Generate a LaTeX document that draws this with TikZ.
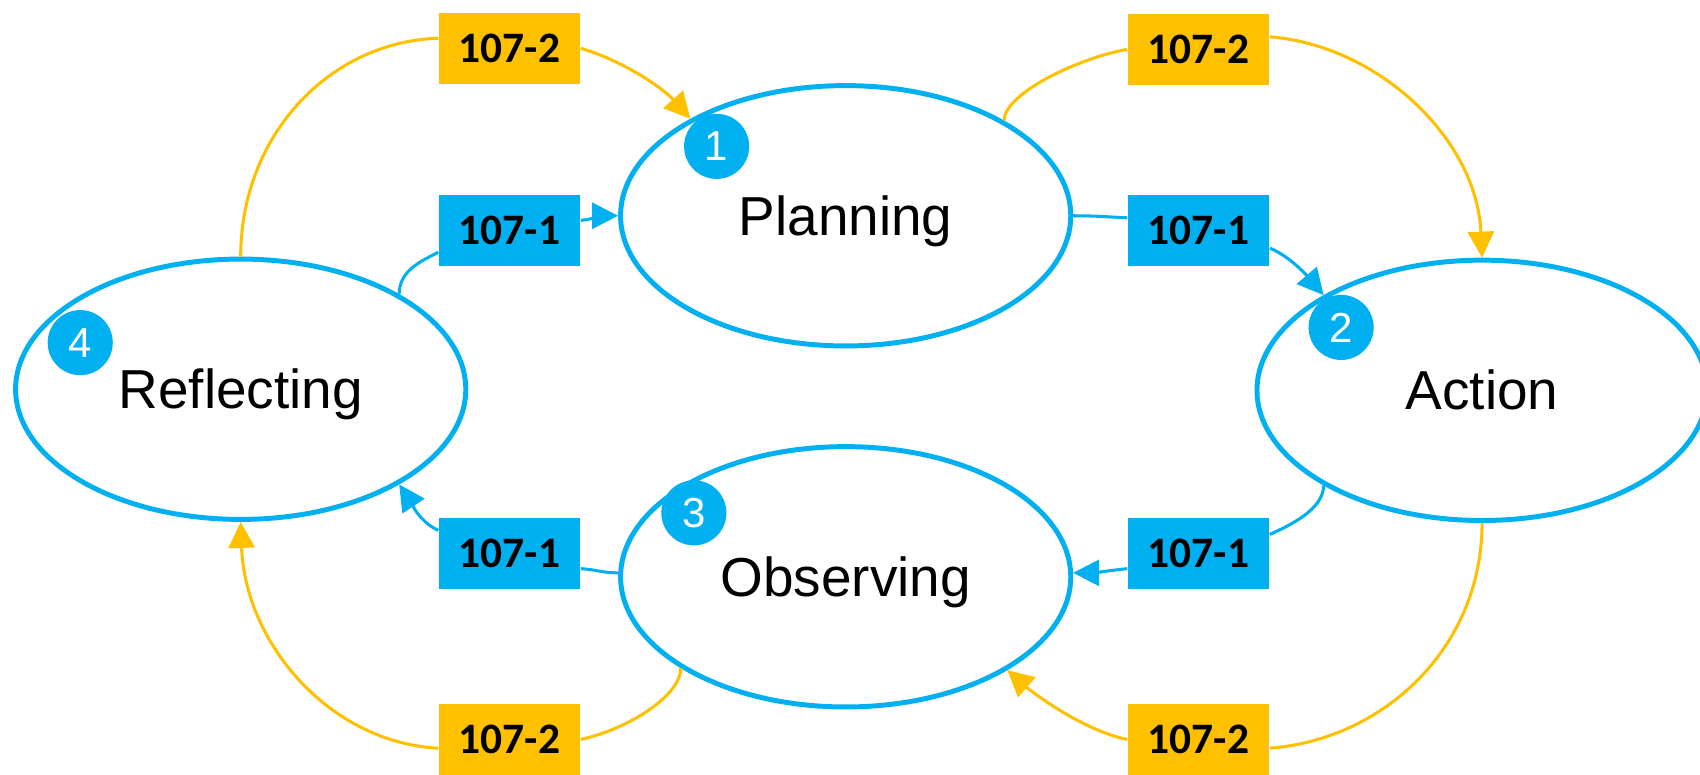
\documentclass[tikz,border=0pt]{standalone}
\usepackage{fontspec}
\setmainfont{Liberation Sans}
\newfontfamily\tagfont{Carlito}
\usetikzlibrary{shapes.geometric,arrows.meta}
\definecolor{cycblue}{HTML}{00B0F0}
\definecolor{cycgold}{HTML}{FFC000}

\begin{document}
\begin{tikzpicture}[x=0.01cm,y=-0.01cm,
  stage/.style={ellipse, draw=cycblue, line width=1.3pt, fill=white, inner sep=0pt,
    minimum width=4.15cm, minimum height=2.40cm,
    font=\fontsize{14.4}{17}\selectfont, text height=10.3pt, text depth=0pt},
  tag/.style={rectangle, minimum width=1.3cm, minimum height=0.65cm, inner sep=0pt,
    font=\tagfont\bfseries\fontsize{11.4}{13}\selectfont},
  bluetag/.style={tag, fill=cycblue},
  goldtag/.style={tag, fill=cycgold},
  badge/.style={circle, fill=cycblue, minimum size=0.6cm, inner sep=0pt, text=white,
    font=\fontsize{11}{13}\selectfont},
  bluelink/.style={line width=0.8pt, draw=cycblue},
  goldlink/.style={line width=0.8pt, draw=cycgold},
  tip/.style={-{Triangle[length=0.24cm,width=0.24cm]}}
]
\useasboundingbox (0,0) rectangle (1568,714);

% the four stages of the cycle
\node[stage] (plan) at (780,199) {Planning};
\node[stage] (act)  at (1367,360) {Action};
\node[stage] (refl) at (222,359) {Reflecting};
\node[stage] (obs)  at (780,532) {Observing};

% step numbers
\node[badge] (n1) at (661,135) {1};
\node[badge] (n2) at (1237,302) {2};
\node[badge] (n3) at (640,473) {3};
\node[badge] (n4) at (74,316) {4};

% tags on the links
\node[goldtag] (g1) at (470,44.5)   {107-2};
\node[bluetag] (b1) at (470,212.5)  {107-1};
\node[goldtag] (g2) at (1105.5,45.5)  {107-2};
\node[bluetag] (b2) at (1105.5,212.5) {107-1};
\node[bluetag] (b3) at (1105.5,510.5) {107-1};
\node[goldtag] (g3) at (1105.5,682)   {107-2};
\node[bluetag] (b4) at (470,510.5)  {107-1};
\node[goldtag] (g4) at (470,682)    {107-2};

% inner (blue) links
\draw[bluelink] (refl.31) .. controls +(0,-22) and +(-15,8) .. (b1.197);
\draw[bluelink,tip] (b1.8) .. controls +(15,-2) and +(-15,0) .. (plan.180);
\draw[bluelink] (plan.0) .. controls +(20,0) and +(-20,-1) .. (b2.170);
\draw[bluelink,tip] (b2.346) .. controls +(20,8) and +(-12,-14) .. (act.149);
\draw[bluelink] (act.211) .. controls +(0,22) and +(18,-8) .. (b3.15);
\draw[bluelink,tip] (b3.192) .. controls +(-18,2) and +(18,0) .. (obs.1);
\draw[bluelink] (obs.179) .. controls +(-15,0) and +(15,1) .. (b4.348);
\draw[bluelink,tip] (b4.162) .. controls +(-18,-8) and +(10,15) .. (refl.329);

% outer (gold) links
\draw[goldlink] (refl.90) .. controls +(0,-112) and +(-100,3) .. (g1.172);
\draw[goldlink,tip] (g1.east) .. controls +(40,12) and +(-25,-28) .. (plan.148);
\draw[goldlink] (plan.31) .. controls +(0,-25) and +(-45,8) .. (g2.west);
\draw[goldlink,tip] (g2.10) .. controls +(100,8) and +(-5,-110) .. (act.90);
\draw[goldlink] (act.270) .. controls +(0,115) and +(105,-8) .. (g3.353);
\draw[goldlink,tip] (g3.180) .. controls +(-40,-8) and +(25,22) .. (obs.330);
\draw[goldlink] (obs.209) .. controls +(0,25) and +(45,-10) .. (g4.east);
\draw[goldlink,tip] (g4.187) .. controls +(-100,-5) and +(4,112) .. (refl.270);
\end{tikzpicture}
\end{document}
